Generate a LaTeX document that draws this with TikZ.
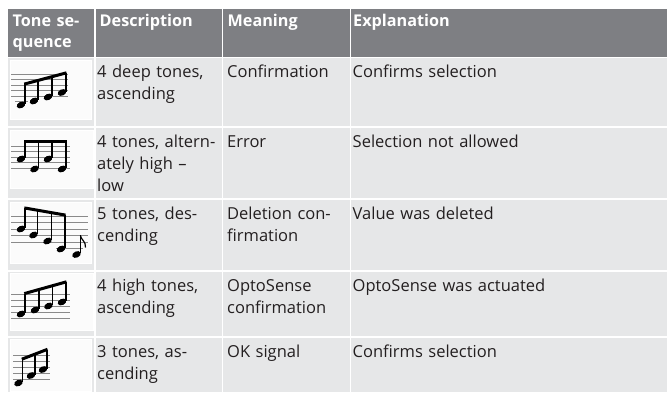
\documentclass[tikz,border=0pt]{standalone}
\usepackage{fontspec}
\setmainfont{Open Sans}
\definecolor{hdrgray}{HTML}{7E7F83}
\definecolor{cellgray}{HTML}{E6E7E8}
\definecolor{txtdark}{HTML}{231F20}
\definecolor{staffgray}{HTML}{8A8A8A}
\definecolor{iconbg}{HTML}{FBFBFB}
\tikzset{
  hdrtext/.style={anchor=base west,inner sep=0pt,text=white,align=left,text width=#1,
     font=\fontsize{16.2}{21}\selectfont\bfseries},
  celltext/.style={anchor=base west,inner sep=0pt,text=txtdark,align=left,text width=#1,
     font=\fontsize{16.5}{22}\selectfont},
  sep/.style={white,line width=1.6pt},
  staffline/.style={staffgray,line width=0.9pt},
  stemline/.style={black,line width=1.2pt},
  beamline/.style={black,line width=3pt},
  iconbox/.style={fill=iconbg,draw=white,line width=0.6pt}
}
\newcommand\nhead[2]{\fill[black,rotate around={25:(#1,#2)}] (#1,#2) ellipse (4.5pt and 3.1pt);}
\newcommand\nstem[3]{\draw[stemline] (#1+3.9,#2-1) -- (#1+3.9,#3);}
\begin{document}
\begin{tikzpicture}[x=1pt,y=-1pt]
\useasboundingbox (0,0) rectangle (667,392);
\fill[white] (0,0) rectangle (667,392);
% backgrounds
\fill[hdrgray] (8,9) rectangle (667,57.5);
\fill[cellgray] (8,57.5) rectangle (667,392);
% separators
\foreach \yy in {57.5,127,199,271,337} \draw[sep] (8,\yy) -- (667,\yy);
\foreach \xx in {95,222.5,350.5} \draw[sep] (\xx,9) -- (\xx,392);
% icon boxes
\filldraw[iconbox] (10,60) rectangle (91,119);
\filldraw[iconbox] (10,130) rectangle (93,188);
\filldraw[iconbox] (10,202) rectangle (91,263);
\filldraw[iconbox] (10,273) rectangle (93,330);
\filldraw[iconbox] (10,339.5) rectangle (91,391);
% icon 1: 4 deep tones ascending
\foreach \yy in {74,79.5,85,90.5,96} \draw[staffline] (11,\yy) -- (68,\yy);
\draw[staffline] (15,101.5) -- (28,101.5);
\nstem{21}{105}{84}\nstem{34}{101}{80.5}\nstem{48}{97}{76.8}\nstem{62}{92.5}{73}
\draw[beamline] (24.3,84.1) -- (66.5,72.8);
\nhead{21}{105}\nhead{34}{101}\nhead{48}{97}\nhead{62}{92.5}
% icon 2: alternating
\foreach \yy in {146,151.5,157,162.5,168} \draw[staffline] (11,\yy) -- (70,\yy);
\nstem{21}{159}{141}\nstem{34.5}{169}{141}\nstem{48}{159}{141}\nstem{62}{169}{141}
\draw[beamline] (24.3,141) -- (66.5,141);
\nhead{21}{159}\nhead{34.5}{169}\nhead{48}{159}\nhead{62}{169}
% icon 3: 5 tones descending
\foreach \yy in {216,222.5,229,235.5,242} \draw[staffline] (11,\yy) -- (88,\yy);
\draw[staffline] (56,248.5) -- (83,248.5);
\nstem{21}{229}{208}\nstem{33.5}{235}{210.2}\nstem{47.5}{241}{212.6}\nstem{61}{249}{215}
\draw[beamline] (24.3,207.9) -- (65.5,215.1);
\nhead{21}{229}\nhead{33.5}{235}\nhead{47.5}{241}\nhead{61}{249}
\draw[stemline] (80.4,253) -- (80.4,235);
\draw[black,line width=1.2pt] (80.4,235.5) .. controls (81,240) and (86,241) .. (85.5,247.5);
\nhead{76.5}{254.5}
% icon 4: 4 high tones ascending
\foreach \yy in {294,300,306,312,318} \draw[staffline] (11,\yy) -- (70,\yy);
\nstem{21}{314}{293.5}\nstem{35}{310}{289.6}\nstem{48.5}{306}{285.9}\nstem{62}{302}{282}
\draw[beamline] (24.3,293.6) -- (66.5,281.8);
\nhead{21}{314}\nhead{35}{310}\nhead{48.5}{306}\nhead{62}{302}
% icon 5: 3 tones ascending
\foreach \yy in {355,361,367,373,379} \draw[staffline] (13,\yy) -- (50,\yy);
\nstem{18.5}{383}{359}\nstem{31}{375.5}{354.2}\nstem{43}{369.5}{349.5}
\draw[beamline] (21.8,359.2) -- (47.5,349.3);
\nhead{18.5}{383}\nhead{31}{375.5}\nhead{43}{369.5}
% header texts
\node[hdrtext=80pt] (h1) at (12.5,26.7) {Tone se-\\quence};
\node[hdrtext=120pt] (h2) at (99.5,26.7) {Description};
\node[hdrtext=120pt] (h3) at (227.5,26.7) {Meaning};
\node[hdrtext=300pt] (h4) at (353,26.7) {Explanation};
% row 1
\node[celltext=122pt] (d1) at (97,77.5) {4 deep tones,\\ascending};
\node[celltext=124pt] (m1) at (227,77.5) {Confirmation};
\node[celltext=300pt] (e1) at (352.5,77.5) {Confirms selection};
% row 2
\node[celltext=122pt] (d2) at (97,147) {4 tones, altern-\\ately high –\\low};
\node[celltext=124pt] (m2) at (227,147) {Error};
\node[celltext=300pt] (e2) at (352.5,147) {Selection not allowed};
% row 3
\node[celltext=122pt] (d3) at (97,219) {5 tones, des-\\cending};
\node[celltext=124pt] (m3) at (227,219) {Deletion con-\\firmation};
\node[celltext=300pt] (e3) at (352.5,219) {Value was deleted};
% row 4
\node[celltext=122pt] (d4) at (97,291) {4 high tones,\\ascending};
\node[celltext=124pt] (m4) at (227,291) {OptoSense\\confirmation};
\node[celltext=300pt] (e4) at (352.5,291) {OptoSense was actuated};
% row 5
\node[celltext=122pt] (d5) at (97,357) {3 tones, as-\\cending};
\node[celltext=124pt] (m5) at (227,357) {OK signal};
\node[celltext=300pt] (e5) at (352.5,357) {Confirms selection};
\end{tikzpicture}
\end{document}
